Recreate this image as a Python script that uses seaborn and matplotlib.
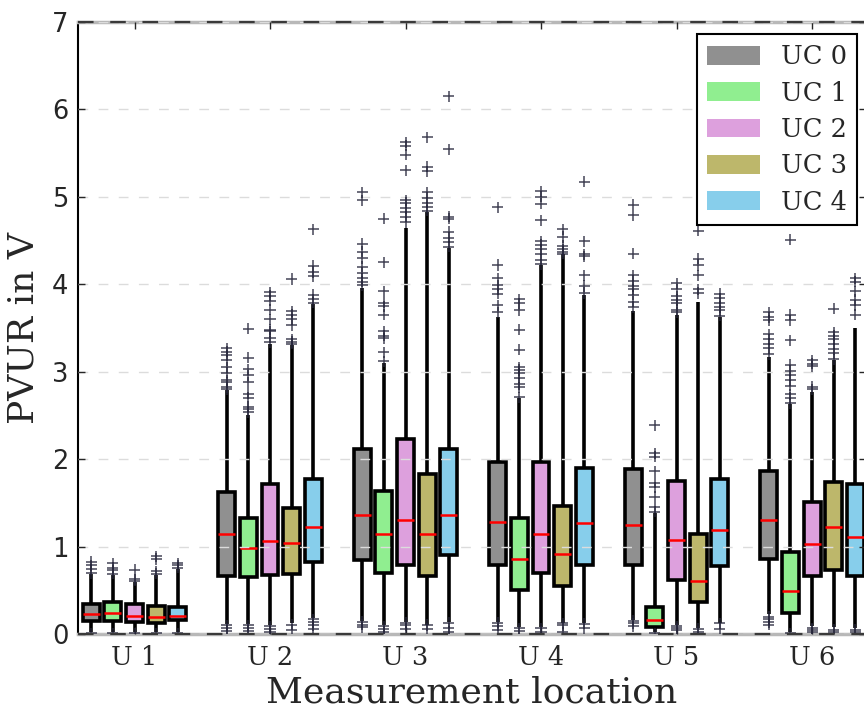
import matplotlib
matplotlib.use("Agg")
import matplotlib.pyplot as plt
import pandas as pd
import seaborn as sns
from matplotlib.patches import Patch

# ---------------- data ----------------
locations = ["U 1", "U 2", "U 3", "U 4", "U 5", "U 6"]
use_cases = ["UC 0", "UC 1", "UC 2", "UC 3", "UC 4"]
colors = ["#909090", "#90ee90", "#dda0dd", "#bdb76b", "#87ceeb"]

# per location: [UC0, UC1, UC2, UC3, UC4]
whisker_low = [
    [0.02, 0.02, 0.02, 0.02, 0.02],
    [0.12, 0.115, 0.10, 0.13, 0.18],
    [0.15, 0.10, 0.14, 0.11, 0.14],
    [0.145, 0.08, 0.08, 0.13, 0.125],
    [0.16, 0.02, 0.10, 0.07, 0.13],
    [0.23, 0.02, 0.09, 0.08, 0.07],
]
q1 = [
    [0.15, 0.15, 0.135, 0.125, 0.16],
    [0.665, 0.657, 0.677, 0.688, 0.82],
    [0.85, 0.70, 0.79, 0.67, 0.90],
    [0.79, 0.507, 0.705, 0.556, 0.79],
    [0.79, 0.08, 0.62, 0.373, 0.785],
    [0.86, 0.246, 0.67, 0.73, 0.66],
]
median = [
    [0.235, 0.245, 0.21, 0.20, 0.21],
    [1.14, 0.98, 1.07, 1.046, 1.22],
    [1.365, 1.14, 1.31, 1.14, 1.365],
    [1.28, 0.857, 1.147, 0.918, 1.276],
    [1.246, 0.164, 1.078, 0.613, 1.19],
    [1.30, 0.497, 1.034, 1.23, 1.11],
]
q3 = [
    [0.345, 0.37, 0.35, 0.32, 0.31],
    [1.63, 1.33, 1.72, 1.44, 1.77],
    [2.12, 1.64, 2.23, 1.83, 2.12],
    [1.966, 1.33, 1.97, 1.467, 1.90],
    [1.886, 0.316, 1.75, 1.147, 1.77],
    [1.87, 0.936, 1.51, 1.74, 1.72],
]
whisker_high = [
    [0.69, 0.68, 0.60, 0.68, 0.75],
    [2.79, 2.51, 3.32, 3.30, 3.77],
    [3.96, 3.10, 4.64, 4.82, 4.41],
    [3.63, 2.70, 4.22, 4.34, 3.88],
    [3.69, 1.38, 3.65, 3.80, 3.62],
    [3.17, 2.63, 2.77, 3.13, 3.50],
]
fliers_high = [
    [[0.70, 0.74, 0.79, 0.83], [0.69, 0.73, 0.76, 0.81], [0.61, 0.63, 0.735],
     [0.69, 0.72, 0.86, 0.89], [0.76, 0.79, 0.81]],
    [[2.80, 2.82, 2.88, 2.90, 2.99, 3.05, 3.13, 3.19, 3.23, 3.27],
     [2.54, 2.57, 2.60, 2.70, 2.75, 2.88, 2.96, 3.03, 3.16, 3.49],
     [3.34, 3.39, 3.46, 3.48, 3.60, 3.71, 3.81, 3.87, 3.91],
     [3.32, 3.34, 3.37, 3.53, 3.60, 3.65, 3.69, 4.06],
     [3.79, 3.83, 3.88, 4.09, 4.14, 4.21, 4.63]],
    [[3.99, 4.03, 4.07, 4.13, 4.20, 4.30, 4.37, 4.46, 4.96, 5.05],
     [3.12, 3.22, 3.38, 3.41, 3.46, 3.65, 3.75, 3.79, 3.92, 4.25, 4.75],
     [4.71, 4.77, 4.82, 4.87, 4.93, 4.96, 5.30, 5.48, 5.58, 5.62],
     [4.84, 4.88, 4.93, 4.99, 5.05, 5.29, 5.34, 5.68],
     [4.43, 4.48, 4.53, 4.60, 4.75, 4.77, 5.54, 6.15]],
    [[3.68, 3.76, 3.89, 3.94, 3.99, 4.07, 4.22, 4.88],
     [2.71, 2.82, 2.86, 2.93, 2.98, 3.02, 3.05, 3.25, 3.48, 3.70, 3.78, 3.83],
     [4.23, 4.28, 4.34, 4.40, 4.45, 4.49, 4.73, 4.92, 5.00, 5.06],
     [4.35, 4.37, 4.40, 4.44, 4.54, 4.63],
     [3.90, 3.98, 4.10, 4.32, 4.34, 4.49, 5.17]],
    [[3.74, 3.80, 3.88, 3.94, 3.98, 4.04, 4.10, 4.35, 4.79, 4.91],
     [1.40, 1.45, 1.57, 1.68, 1.73, 1.86, 2.03, 2.07, 2.39],
     [3.68, 3.71, 3.78, 3.82, 3.86, 3.94, 4.01],
     [3.90, 3.94, 4.10, 4.22, 4.29, 4.61],
     [3.64, 3.70, 3.74, 3.78, 3.84, 3.89]],
    [[3.20, 3.27, 3.32, 3.37, 3.43, 3.59, 3.62, 3.68],
     [2.64, 2.70, 2.74, 2.84, 2.90, 2.96, 3.01, 3.08, 3.36, 3.59, 3.65, 4.51],
     [2.80, 2.83, 3.06, 3.09, 3.13],
     [3.14, 3.21, 3.26, 3.32, 3.37, 3.41, 3.45, 3.72],
     [3.65, 3.76, 3.82, 3.92, 4.03, 4.07]],
]
fliers_low = [
    [[0.01], [0.01], [0.01], [0.01], [0.01]],
    [[0.10, 0.07, 0.04], [0.10, 0.07, 0.04], [0.09, 0.06, 0.03], [0.11, 0.05],
     [0.17, 0.135, 0.10, 0.06]],
    [[0.14, 0.11, 0.08], [0.09, 0.055, 0.03], [0.13, 0.10, 0.06], [0.105, 0.06],
     [0.13, 0.07, 0.025]],
    [[0.13, 0.095, 0.05], [0.07, 0.04], [0.07, 0.03], [0.125, 0.10, 0.02],
     [0.12, 0.07]],
    [[0.155, 0.125, 0.09], [0.01], [0.09, 0.07, 0.05], [0.06, 0.03], [0.125, 0.06]],
    [[0.20, 0.17, 0.14, 0.11], [0.01], [0.07, 0.05, 0.02], [0.05, 0.02], [0.05, 0.02]],
]

# ---------------- long tables ----------------
core_rows, flier_rows = [], []
for i, loc in enumerate(locations):
    for j, uc in enumerate(use_cases):
        for v in (whisker_low[i][j], q1[i][j], median[i][j], q3[i][j], whisker_high[i][j]):
            core_rows.append((loc, uc, v))
        for v in fliers_high[i][j] + fliers_low[i][j]:
            flier_rows.append((loc, uc, v))
core = pd.DataFrame(core_rows, columns=["location", "uc", "value"])
fliers = pd.DataFrame(flier_rows, columns=["location", "uc", "value"])

# ---------------- figure ----------------
sns.set_style("white")
plt.rcParams["font.family"] = ["DejaVu Serif"]

fig = plt.figure(figsize=(8.64, 7.11), dpi=100)
ax = fig.add_axes([0.0903, 0.108, 0.9120, 0.8615])

sns.boxplot(data=core, x="location", y="value", hue="uc", order=locations,
            hue_order=use_cases, palette=colors, saturation=1, width=0.8, gap=0.22,
            whis=(0, 100), showfliers=False, showcaps=False, linecolor="black",
            linewidth=2.6, medianprops=dict(color="red", linewidth=1.8),
            legend=False, ax=ax)

sns.stripplot(data=fliers, x="location", y="value", hue="uc", order=locations,
              hue_order=use_cases, palette=["#25253a"] * 5, dodge=True, jitter=False,
              marker="+", size=8, linewidth=1.1, alpha=0.85, legend=False, ax=ax)

ax.set_ylim(0, 7)
ax.set_xlim(-0.417, 5.398)
ax.set_yticks(range(8))
ax.set_yticklabels([str(v) for v in range(8)], fontfamily="DejaVu Sans", fontsize=18.5)
for lab in ax.get_xticklabels():
    lab.set_fontsize(18.5)
ax.tick_params(axis="y", direction="in", length=5, width=1, left=True, right=True, pad=7)
ax.tick_params(axis="x", direction="in", length=5, width=1, bottom=True, top=True, pad=8)

# grid drawn on top of the boxes
ax.set_axisbelow(False)
ax.yaxis.grid(True, linestyle=(0, (7, 7.5)), color="#dcdcdc", linewidth=1.0)
ax.xaxis.grid(False)

for side in ("top", "bottom"):
    ax.spines[side].set_color("#b8b8b8")
    ax.spines[side].set_linewidth(2.5)
ax.spines["left"].set_color("black")
ax.spines["left"].set_linewidth(1.5)
ax.spines["right"].set_color("black")
ax.spines["right"].set_linewidth(1.5)
for yv in (0, 7):
    ax.axhline(yv, color="#3a3a3a", linewidth=1.6, linestyle=(0, (7, 7.5)),
               zorder=4, clip_on=False)

ax.set_xlabel("Measurement location", fontsize=26, labelpad=4)
ax.set_ylabel("PVUR in V", fontsize=26, labelpad=8)

handles = [Patch(facecolor=c, edgecolor="none") for c in colors]
leg = ax.legend(handles, use_cases, loc="upper right",
                bbox_to_anchor=(857 / 864, 1 - 34 / 711), bbox_transform=fig.transFigure,
                borderaxespad=0, fontsize=18.5, frameon=True, fancybox=False,
                framealpha=1, edgecolor="black", handlelength=2.05, handleheight=0.75,
                handletextpad=0.8, labelspacing=0.44, borderpad=0.4)
leg.get_frame().set_linewidth(1.5)
leg.set_zorder(10)

fig.savefig("out.png", dpi=100)
